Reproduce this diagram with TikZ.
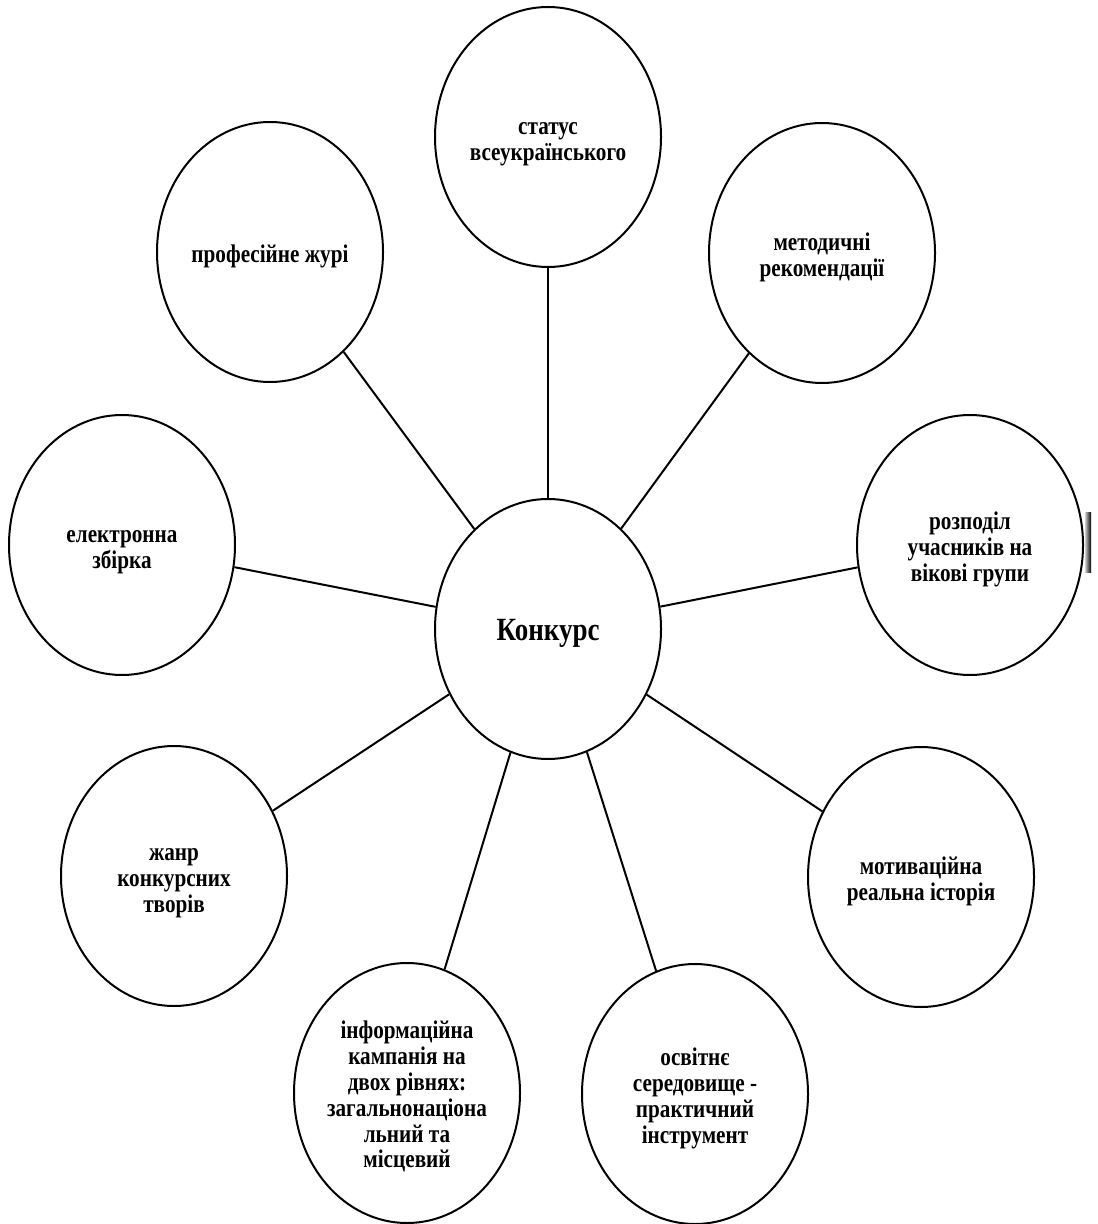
\documentclass[tikz,border=0pt]{standalone}
\usepackage{fontspec}
\setmainfont{Liberation Serif}
\usepackage{graphicx}
\usetikzlibrary{shapes.geometric}
\newcommand{\lbl}[2][10.6]{\raisebox{-2.5pt}[\height][\depth]{\scalebox{1}[1.2]{\fontsize{#1}{10.8}\selectfont\bfseries\begin{tabular}{@{}c@{}}#2\end{tabular}}}}
\tikzset{
  bubble/.style={ellipse, draw=black, line width=1pt, fill=white,
    minimum width=113pt, minimum height=130pt, inner sep=0pt},
  link/.style={line width=1pt, draw=black}
}
\begin{document}
\begin{tikzpicture}[x=0.5pt,y=-0.5pt]
\useasboundingbox (0,0) rectangle (1097,1224);
\node[bubble] (C) at (548,629) {\lbl[13.5]{Конкурс}};
\node[bubble] (T) at (548,137) {\lbl{статус\\всеукраїнського}};
\node[bubble] (J) at (270,252) {\lbl{професійне журі}};
\node[bubble] (M) at (822,253) {\lbl{методичні\\рекомендації}};
\node[bubble] (E) at (122,545) {\lbl{електронна\\збірка}};
\node[bubble] (R) at (970,545) {\lbl{розподіл\\учасників на\\вікові групи}};
\node[bubble] (Z) at (174,876) {\lbl{жанр\\конкурсних\\творів}};
\node[bubble] (V) at (921,877) {\lbl{мотиваційна\\реальна історія}};
\node[bubble] (I) at (407,1093) {\lbl{інформаційна\\кампанія на\\двох рівнях:\\загальнонаціона\\льний та\\місцевий}};
\node[bubble] (O) at (695,1094) {\lbl{освітнє\\середовище -\\практичний\\інструмент}};
\foreach \n in {T,J,M,E,R,Z,V,I,O} \draw[link] (C) -- (\n);
\fill[left color=gray!40, right color=black] (1085,512) rectangle (1091,572);
\end{tikzpicture}
\end{document}
